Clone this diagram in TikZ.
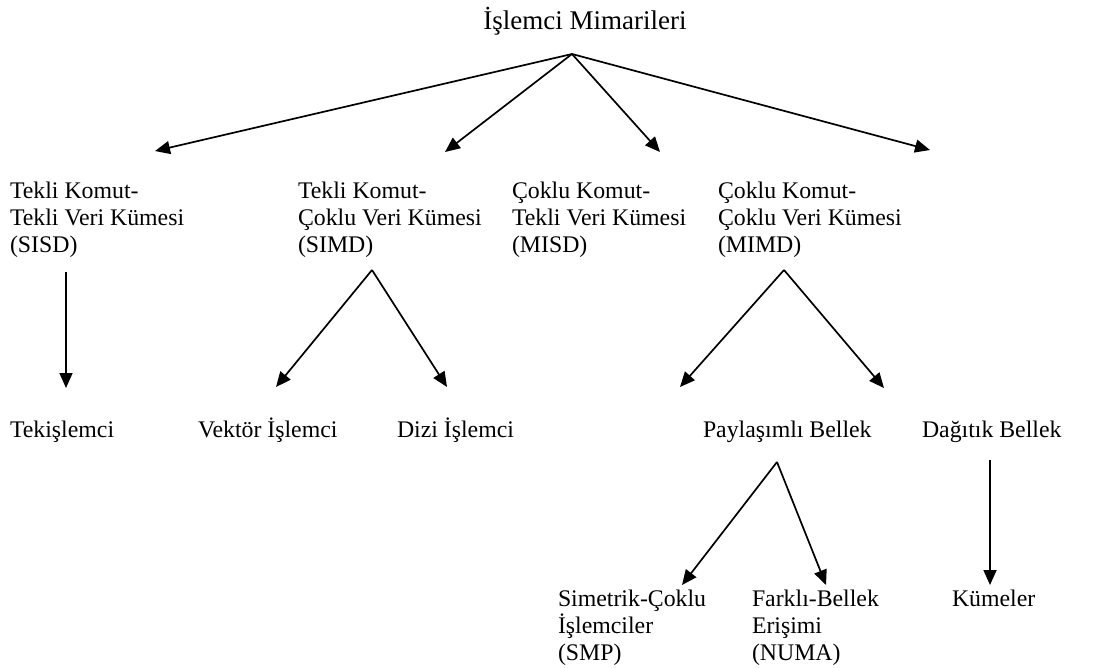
\documentclass[tikz,border=0pt]{standalone}
\usepackage{fontspec}
\setmainfont{Liberation Serif}
\usetikzlibrary{arrows.meta}

\newcommand{\lines}[1]{\begin{tabular}[t]{@{}l@{}}#1\end{tabular}}

\begin{document}
\begin{tikzpicture}[x=1pt,y=-1pt,
  every node/.style={inner sep=0pt, outer sep=0pt},
  label/.style={anchor=base west, font=\fontsize{23.8}{27}\selectfont},
  link/.style={line width=1.7pt, -{Triangle[length=15pt,width=13pt]}}]
\useasboundingbox (0,0) rectangle (1099,667);

% root
\node[label, anchor=base, font=\fontsize{27}{31}\selectfont] (root) at (585,29) {İşlemci Mimarileri};
\coordinate (rootfork) at (572,54);

% first level
\node[label] (sisd) at (10,198) {\lines{Tekli Komut-\\Tekli Veri Kümesi\\(SISD)}};
\node[label] (simd) at (298,198) {\lines{Tekli Komut-\\Çoklu Veri Kümesi\\(SIMD)}};
\node[label] (misd) at (512,198) {\lines{Çoklu Komut-\\Tekli Veri Kümesi\\(MISD)}};
\node[label] (mimd) at (718,198) {\lines{Çoklu Komut-\\Çoklu Veri Kümesi\\(MIMD)}};

\coordinate (sisd-in) at (155,151);
\coordinate (simd-in) at (445,152);
\coordinate (misd-in) at (660,152);
\coordinate (mimd-in) at (930,150);

\draw[link] (rootfork) -- (sisd-in);
\draw[link] (rootfork) -- (simd-in);
\draw[link] (rootfork) -- (misd-in);
\draw[link] (rootfork) -- (mimd-in);

% second level
\node[label] (uni) at (10,437) {Tekişlemci};
\node[label] (vec) at (198,437) {Vektör İşlemci};
\node[label] (arr) at (397,437) {Dizi İşlemci};
\node[label] (shm) at (703,437) {Paylaşımlı Bellek};
\node[label] (dsm) at (922,437) {Dağıtık Bellek};

\coordinate (sisd-out) at (66,272);
\coordinate (uni-in) at (66,388);
\coordinate (simd-out) at (372,270);
\coordinate (vec-in) at (276,387);
\coordinate (arr-in) at (447,387);
\coordinate (mimd-out) at (784,270);
\coordinate (shm-in) at (680,387);
\coordinate (dsm-in) at (884,388);

\draw[link] (sisd-out) -- (uni-in);
\draw[link] (simd-out) -- (vec-in);
\draw[link] (simd-out) -- (arr-in);
\draw[link] (mimd-out) -- (shm-in);
\draw[link] (mimd-out) -- (dsm-in);

% third level
\node[label] (smp) at (558,606) {\lines{Simetrik-Çoklu\\İşlemciler\\(SMP)}};
\node[label] (numa) at (752,606) {\lines{Farklı-Bellek\\Erişimi\\(NUMA)}};
\node[label] (clu) at (952,606) {Kümeler};

\coordinate (shm-out) at (777,462);
\coordinate (smp-in) at (682,585);
\coordinate (numa-in) at (826,585);
\coordinate (dsm-out) at (990,460);
\coordinate (clu-in) at (990,585);

\draw[link] (shm-out) -- (smp-in);
\draw[link] (shm-out) -- (numa-in);
\draw[link] (dsm-out) -- (clu-in);
\end{tikzpicture}
\end{document}
